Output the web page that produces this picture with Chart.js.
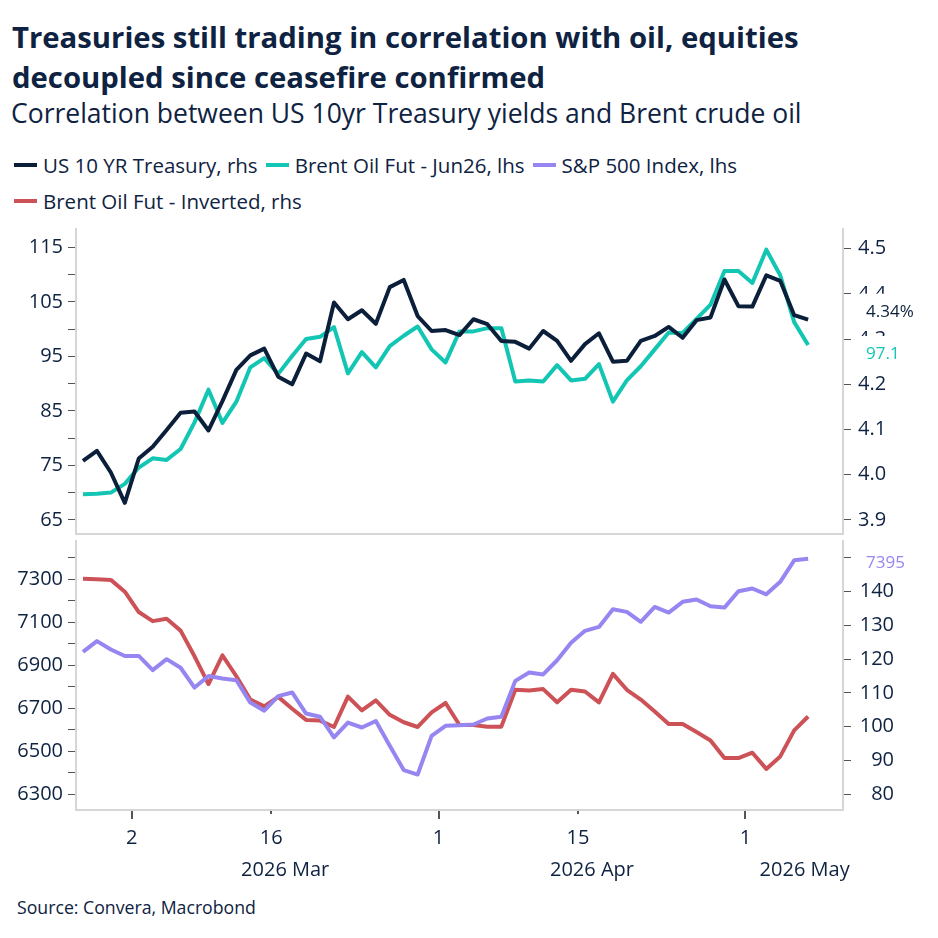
<!DOCTYPE html>
<html>
<head>
<meta charset="utf-8">
<script src="https://cdn.jsdelivr.net/npm/chart.js@4.4.1/dist/chart.umd.min.js"></script>
<style>
  body { margin:0; width:938px; height:938px; background:#fff; overflow:hidden; position:relative;
         font-family:'Open Sans', sans-serif; color:#0e2241; }
  .title { position:absolute; left:12px; top:17px; font-size:29.3px; font-weight:700; line-height:40px; }
  .subtitle { position:absolute; left:11px; top:96px; font-size:26.5px; line-height:34px; }
  .legend { position:absolute; left:14px; top:147px; width:800px; font-size:20.5px; line-height:36px;
            display:flex; flex-wrap:wrap; }
  .legend .item { display:inline-flex; align-items:center; margin-right:8px; }
  .legend .sw { width:23px; height:4px; margin-right:6px; }
  canvas { position:absolute; left:0; }
  .source { position:absolute; left:17px; top:895px; font-size:17.7px; line-height:24px; }
</style>
</head>
<body>
<div class="title">Treasuries still trading in correlation with oil, equities<br>decoupled since ceasefire confirmed</div>
<div class="subtitle">Correlation between US 10yr Treasury yields and Brent crude oil</div>
<div class="legend" id="legend"></div>
<canvas id="topChart" width="938" height="370" style="top:190px"></canvas>
<canvas id="bottomChart" width="938" height="385" style="top:500px"></canvas>
<div class="source">Source: Convera, Macrobond</div>
<script>
// trading days shown
var dates = [
  '2026-02-24','2026-02-25','2026-02-26','2026-02-27',
  '2026-03-02','2026-03-03','2026-03-04','2026-03-05','2026-03-06',
  '2026-03-09','2026-03-10','2026-03-11','2026-03-12','2026-03-13',
  '2026-03-16','2026-03-17','2026-03-18','2026-03-19','2026-03-20',
  '2026-03-23','2026-03-24','2026-03-25','2026-03-26','2026-03-27',
  '2026-03-30','2026-03-31',
  '2026-04-01','2026-04-02','2026-04-03',
  '2026-04-06','2026-04-07','2026-04-08','2026-04-09','2026-04-10',
  '2026-04-13','2026-04-14','2026-04-15','2026-04-16','2026-04-17',
  '2026-04-20','2026-04-21','2026-04-22','2026-04-23','2026-04-24',
  '2026-04-27','2026-04-28','2026-04-29','2026-04-30',
  '2026-05-01','2026-05-04','2026-05-05','2026-05-06','2026-05-07'
];

var ust = [4.031,4.053,4.005,3.938,4.036,4.062,4.099,4.137,4.140,4.098,
           4.163,4.232,4.264,4.279,4.217,4.200,4.268,4.251,4.381,4.344,
           4.364,4.334,4.415,4.431,4.351,4.318,4.320,4.309,4.344,4.333,
           4.296,4.294,4.279,4.318,4.296,4.252,4.289,4.313,4.250,4.252,
           4.296,4.307,4.327,4.303,4.342,4.348,4.432,4.373,4.372,4.441,
           4.429,4.353,4.343];

var brent = [69.7,69.8,70.0,71.6,74.6,76.3,76.0,78.0,82.9,88.9,
             82.8,86.7,93.0,94.7,91.8,95.1,98.2,98.6,100.4,91.9,
             95.8,93.0,96.9,98.8,100.5,96.3,93.9,99.6,99.6,100.2,
             100.2,90.4,90.6,90.4,93.4,90.6,90.9,93.6,86.7,90.6,
             93.2,96.3,99.4,99.3,101.9,104.5,110.7,110.7,108.5,114.6,
             109.9,101.3,97.1];

var sp500 = [6962,7012,6973,6943,6943,6877,6928,6888,6796,6850,
             6838,6830,6726,6688,6756,6773,6675,6660,6564,6633,
             6610,6640,6525,6412,6391,6571,6618,6621,6624,6652,
             6660,6827,6866,6857,6923,7004,7060,7078,7160,7148,
             7102,7171,7145,7195,7206,7174,7168,7244,7257,7230,
             7288,7388,7395];

var brentInv = [143.7,143.6,143.4,139.9,133.9,131.2,131.9,128.4,120.8,112.6,
                121.1,114.9,108.0,106.0,108.8,105.3,102.0,101.8,99.9,108.9,
                104.8,107.8,103.5,101.3,99.9,104.2,107.0,100.5,100.5,100.0,
                100.0,110.9,110.7,111.1,107.2,110.9,110.4,107.2,115.6,110.9,
                108.0,104.5,100.8,100.8,98.4,95.9,90.7,90.7,92.3,87.5,
                91.2,98.9,103.0];

var topLeftTicks = [65,70,75,80,85,90,95,100,105,110,115];
var topRightTicks = [3.9,4.0,4.1,4.2,4.3,4.4,4.5];
var bottomLeftTicks = [6300,6400,6500,6600,6700,6800,6900,7000,7100,7200,7300,7400];
var bottomRightTicks = [80,90,100,110,120,130,140,150];

var xTickDates = ['2026-03-02','2026-03-16','2026-04-01','2026-04-15','2026-05-01'];
var xTickLabels = ['2','16','1','15','1'];
var monthStarts = ['2026-03-02','2026-04-01','2026-05-01'];
var monthLabels = ['2026 Mar','2026 Apr','2026 May'];

var seriesNames = ['US 10 YR Treasury, rhs','Brent Oil Fut - Jun26, lhs','S&P 500 Index, lhs','Brent Oil Fut - Inverted, rhs'];
var seriesColors = ['#0b1f3a','#13c6b3','#9686f2','#cd5257'];

var textColor = '#0e2241';
var fontFamily = "'Open Sans', sans-serif";

// legend
var legendEl = document.getElementById('legend');
seriesNames.forEach(function (name, i) {
  var item = document.createElement('span');
  item.className = 'item';
  var sw = document.createElement('span');
  sw.className = 'sw';
  sw.style.background = seriesColors[i];
  item.appendChild(sw);
  item.appendChild(document.createTextNode(name));
  legendEl.appendChild(item);
});

function pts(arr) {
  return arr.map(function (v, i) { return { x: i + 0.5, y: v }; });
}
function xPos(d) { return dates.indexOf(d); }

function yAxis(position, min, max, ticks, width, fmt, tickOpts) {
  return {
    type: 'linear', position: position, min: min, max: max,
    grid: { display: true, drawOnChartArea: false, drawTicks: true, tickLength: 8,
            tickColor: '#555', tickWidth: 1, color: 'transparent' },
    border: { display: true, color: '#d6d6d6', width: 2 },
    afterBuildTicks: function (s) { s.ticks = ticks.map(function (v) { return { value: v }; }); },
    afterFit: function (s) { s.width = width; },
    ticks: Object.assign({ autoSkip: false, padding: 5, color: textColor,
             font: { family: fontFamily, size: 20 }, callback: fmt }, tickOpts || {})
  };
}

var endLabels = {
  id: 'endLabels',
  afterDatasetsDraw: function (chart, args, opts) {
    var ctx = chart.ctx;
    ctx.save();
    ctx.font = '17px ' + fontFamily;
    ctx.textBaseline = 'middle';
    ctx.textAlign = 'left';
    opts.items.forEach(function (it) {
      var ds = chart.data.datasets[it.dataset];
      var last = ds.data[ds.data.length - 1].y;
      var y = chart.scales[ds.yAxisID].getPixelForValue(last) + it.dy;
      var x = chart.chartArea.right + 23;
      var txt = it.format(last);
      var w = ctx.measureText(txt).width;
      ctx.fillStyle = '#fff';
      ctx.fillRect(x - 8, y - 18, w + 14, 30);
      ctx.fillStyle = ds.borderColor;
      ctx.fillText(txt, x, y);
    });
    ctx.restore();
  }
};

var xDecor = {
  id: 'xDecor',
  afterDraw: function (chart) {
    var s = chart.scales.x, ctx = chart.ctx;
    ctx.save();
    ctx.strokeStyle = '#555';
    ctx.lineWidth = 2;
    xTickDates.forEach(function (d) {
      var px = Math.round(s.getPixelForValue(xPos(d)));
      var len = monthStarts.indexOf(d) >= 0 ? 8 : 3;
      ctx.beginPath();
      ctx.moveTo(px, s.top + 1);
      ctx.lineTo(px, s.top + 1 + len);
      ctx.stroke();
    });
    ctx.fillStyle = textColor;
    ctx.font = '20px ' + fontFamily;
    ctx.textAlign = 'center';
    ctx.textBaseline = 'middle';
    monthStarts.forEach(function (d, i) {
      var a = s.getPixelForValue(xPos(d));
      var b = i + 1 < monthStarts.length ? s.getPixelForValue(xPos(monthStarts[i + 1]))
                                         : s.getPixelForValue(s.max + 1.5);
      ctx.fillText(monthLabels[i], (a + b) / 2, s.top + 60);
    });
    ctx.restore();
  }
};

var lineStyle = { borderWidth: 4, pointRadius: 0, tension: 0, borderJoinStyle: 'round', fill: false };

new Chart(document.getElementById('topChart'), {
  type: 'line',
  data: {
    datasets: [
      Object.assign({ label: seriesNames[0], data: pts(ust), borderColor: seriesColors[0], yAxisID: 'yR' }, lineStyle),
      Object.assign({ label: seriesNames[1], data: pts(brent), borderColor: seriesColors[1], yAxisID: 'yL' }, lineStyle)
    ]
  },
  options: {
    responsive: false, animation: false, devicePixelRatio: 1,
    layout: { padding: { top: 39, bottom: 26, left: 0, right: 0 } },
    plugins: {
      legend: { display: false }, tooltip: { enabled: false },
      endLabels: { items: [
        { dataset: 0, dy: -8, format: function (v) { return v.toFixed(2) + '%'; } },
        { dataset: 1, dy: 9, format: function (v) { return v.toFixed(1); } }
      ] }
    },
    scales: {
      x: { type: 'linear', min: 0, max: 55, position: 'bottom',
           grid: { display: false, drawTicks: false }, ticks: { display: false },
           border: { display: true, color: '#d6d6d6', width: 2 },
           afterFit: function (s) { s.height = 0; } },
      yL: yAxis('left', 62.4, 118.4, topLeftTicks, 76, function (v) { return v % 10 === 5 ? v : ''; }),
      yR: yAxis('right', 3.869, 4.5436, topRightTicks, 95, function (v) { return v.toFixed(1); }, { padding: 7 })
    }
  },
  plugins: [endLabels]
});

new Chart(document.getElementById('bottomChart'), {
  type: 'line',
  data: {
    datasets: [
      Object.assign({ label: seriesNames[2], data: pts(sp500), borderColor: seriesColors[2], yAxisID: 'yL' }, lineStyle),
      Object.assign({ label: seriesNames[3], data: pts(brentInv), borderColor: seriesColors[3], yAxisID: 'yR' }, lineStyle)
    ]
  },
  options: {
    responsive: false, animation: false, devicePixelRatio: 1,
    layout: { padding: { top: 41, bottom: 0, left: 0, right: 44 } },
    plugins: {
      legend: { display: false }, tooltip: { enabled: false },
      endLabels: { items: [
        { dataset: 0, dy: 4, format: function (v) { return String(Math.round(v)); } }
      ] }
    },
    scales: {
      x: { type: 'linear', min: 0, max: 55, position: 'bottom',
           grid: { display: false, drawTicks: false },
           border: { display: true, color: '#d6d6d6', width: 2 },
           afterBuildTicks: function (s) { s.ticks = xTickDates.map(function (d) { return { value: xPos(d) }; }); },
           afterFit: function (s) { s.height = 75; },
           ticks: { autoSkip: false, maxRotation: 0, padding: 16, color: textColor,
                    font: { family: fontFamily, size: 20 },
                    callback: function (v, i) { return xTickLabels[i]; } } },
      yL: yAxis('left', 6226, 7478, bottomLeftTicks, 76, function (v) { return (v - 6300) % 200 === 0 ? v : ''; }),
      yR: yAxis('right', 75.35, 154.9, bottomRightTicks, 51, function (v) { return v; }, { padding: 7, crossAlign: 'far' })
    }
  },
  plugins: [endLabels, xDecor]
});
</script>
</body>
</html>
